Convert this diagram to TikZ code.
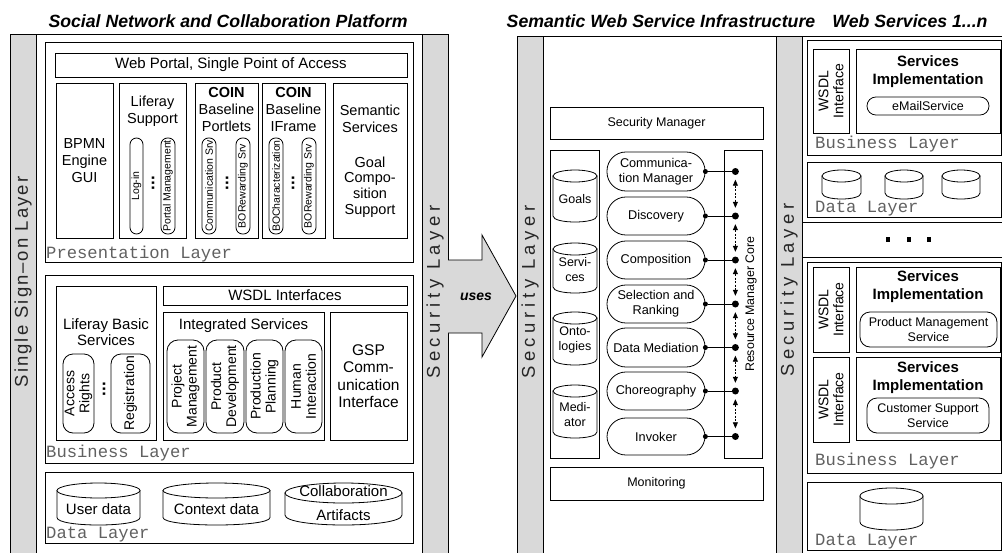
\documentclass[tikz,border=0pt]{standalone}
\usepackage{fontspec}
\setmainfont{Liberation Sans}
\setmonofont{Liberation Mono}
\newfontfamily\spacedA[LetterSpace=25]{Liberation Sans}
\newfontfamily\spacedB[LetterSpace=11]{Liberation Sans}
\usetikzlibrary{arrows.meta}
\newcommand\fz[2]{\fontsize{#1}{#2}\selectfont}
\newcommand\mybox[7][]{\node[bx, minimum width={(#5-#3)*1pt}, minimum height={(#6-#4)*1pt}, #1] (#2) at ({(#3+#5)/2},{(#4+#6)/2}) {#7};}
\newcommand\myrbox[7][]{\node[bx, rotate=90, minimum width={(#6-#4)*1pt}, minimum height={(#5-#3)*1pt}, #1] (#2) at ({(#3+#5)/2},{(#4+#6)/2}) {#7};}
\newcommand\mycyl[6]{%
  \filldraw[cylline] (#2,{#3+#6}) -- (#2,{#5-#6}) .. controls (#2,{#5+#6/3}) and (#4,{#5+#6/3}) .. (#4,{#5-#6}) -- (#4,{#3+#6}) -- cycle;
  \filldraw[cylline] ({(#2+#4)/2},{#3+#6}) ellipse ({(#4-#2)/2} and #6);
  \coordinate (#1) at ({(#2+#4)/2},{(#3+#5)/2});
}
\tikzset{
 bx/.style={draw=black, line width=0.8pt, fill=white, inner sep=1pt, align=center},
 cylline/.style={draw=black, line width=0.8pt, fill=white},
 bar/.style={draw=black, line width=0.8pt, fill=gray!30},
 layerlbl/.style={font=\ttfamily\fz{17.2}{20}, text=black!62, anchor=base west, inner sep=0pt},
 ttl/.style={font=\bfseries\itshape\fz{17.7}{20}, anchor=base, inner sep=0pt},
 txt/.style={align=center, inner sep=0pt},
 spill/.style={rounded corners=6.5pt, font=\fz{10.5}{12}, inner sep=0pt},
 mpill/.style={rounded corners=11pt, font=\fz{14}{15}, inner sep=0pt},
 bpill/.style={rounded corners=18.9pt, font=\fz{12.7}{15}, inner sep=0pt},
 rpill/.style={rounded corners=10pt, font=\fz{12.5}{15}, inner sep=0pt},
 vdots/.style={rotate=90, font=\bfseries\fz{17}{17}, inner sep=0pt},
 bdot/.style={circle, fill=black, inner sep=0pt, minimum size=7pt},
 pdot/.style={circle, fill=black, inner sep=0pt, minimum size=5pt},
 busarr/.style={line width=0.8pt, dash pattern=on 2pt off 1.5pt, {Triangle[length=6pt,width=5pt]}-{Triangle[length=6pt,width=5pt]}, shorten <=4.5pt, shorten >=4.5pt},
 bartxt/.style={rotate=90, text=black!85, inner sep=0pt},
 sq/.style={fill=black, inner sep=0pt, minimum size=4.5pt},
 sitxt/.style={font=\bfseries\fz{15}{18}, align=center, inner sep=0pt},
 wsdl/.style={font=\fz{14}{15}},
}
\begin{document}
\begin{tikzpicture}[x=1pt, y=-1pt, font=\fz{14.5}{17}]
\useasboundingbox (0,0) rectangle (1002,552);
\fill[white] (0,0) rectangle (1002,552);
\clip (0,0) rectangle (1002,552);

% titles
\node[ttl] (t1) at (228,27) {Social Network and Collaboration Platform};
\node[ttl] (t2) at (661,27) {Semantic Web Service Infrastructure};
\node[ttl] (t3) at (910,27) {Web Services 1...n};

% ---------- left panel frame
\draw[bar] (10,34) rectangle (36,560);
\draw[bar] (422,34) rectangle (448,560);
\draw[line width=0.8pt] (36,34) -- (422,34);
\node[bartxt, font=\spacedB\fz{18.5}{20}] (sso) at (23,282) {Single Sign–on Layer};
\node[bartxt, font=\spacedA\fz{18.5}{20}] (sec1) at (435,292) {Security Layer};

% presentation layer
\mybox{pres}{45}{42}{413}{262}{}
\mybox[font=\fz{15}{17}]{portal}{55}{53}{407}{77}{Web Portal, Single Point of Access}
\mybox{bpmn}{56}{83}{113}{238}{BPMN\\Engine\\GUI}
\mybox{lsup}{119}{83}{186}{238}{}
\node[txt] (lsupt) at (152.5,111) {Liferay\\Support};
\mybox{coinp}{195}{83}{258}{238}{}
\node[txt] (coinpt) at (226.5,110) {\textbf{COIN}\\Baseline\\Portlets};
\mybox{coini}{262}{83}{325}{238}{}
\node[txt] (coinit) at (293.5,110) {\textbf{COIN}\\Baseline\\IFrame};
\mybox{sem}{333}{83}{407}{238}{}
\node[txt] (semt1) at (370,118.5) {Semantic\\Services};
\node[txt, font=\fz{14.5}{15.7}] (semt2) at (370,187) {Goal\\Compo-\\sition\\Support};
\myrbox[spill]{login}{130}{138}{143}{234}{Log-in}
\myrbox[spill]{portm}{161}{138}{175}{234}{Portal Management}
\myrbox[spill]{comsrv}{202}{138}{216}{234}{Communication Srv}
\myrbox[spill]{borewa}{236}{138}{250}{234}{BORewarding Srv}
\myrbox[spill]{bochar}{269}{138}{283}{234}{BOCharacterization}
\myrbox[spill]{borewb}{302}{138}{316}{234}{BORewarding Srv}
\node[vdots] (dta) at (153,183) {...};
\node[vdots] (dtb) at (227,183) {...};
\node[vdots] (dtc) at (293,183) {...};
\node[layerlbl] (plbl) at (46,258) {Presentation Layer};

% business layer
\mybox{bus}{45}{275}{413}{463}{}
\mybox{lbs}{56}{286}{156}{440}{}
\node[txt, font=\fz{15}{16.5}] (lbst) at (106,332) {Liferay Basic\\Services};
\myrbox[mpill, rounded corners=10pt]{acc}{63}{354}{94}{433}{Access\\Rights}
\myrbox[mpill, rounded corners=10pt]{reg}{111}{354}{150}{433}{Registration}
\node[vdots] (dtd) at (104,389) {...};
\mybox[font=\fz{15}{17}]{wsdli}{163}{286}{407}{305}{WSDL Interfaces}
\mybox{integ}{163}{312}{324}{440}{}
\node[txt, font=\fz{15}{17}] (integt) at (243.5,326) {Integrated Services};
\myrbox[mpill]{pm}{167}{340}{204}{433}{Project\\Management}
\myrbox[mpill]{pd}{206}{340}{244}{433}{Product\\Development}
\myrbox[mpill]{pp}{246}{340}{283}{433}{Production\\Planning}
\myrbox[mpill]{hi}{285}{340}{322}{433}{Human\\Interaction}
\mybox[font=\fz{15.5}{17.5}]{gsp}{330}{312}{407}{440}{GSP\\Comm-\\unication\\Interface}
\node[layerlbl] (blbl) at (46,457) {Business Layer};

% data layer
\mybox{data}{45}{472}{413}{543}{}
\mycyl{udata}{57}{483}{140}{525}{7.5}
\node[txt, font=\fz{15}{17}] (udatat) at (98.5,509) {User data};
\mycyl{cdata}{163}{483}{270}{525}{7.5}
\node[txt, font=\fz{15}{17}] (cdatat) at (216.5,509) {Context data};
\mycyl{cart}{285}{483}{402}{525}{10}
\node[txt, font=\fz{15}{17}] (carta) at (343.5,491) {Collaboration};
\node[txt, font=\fz{15}{17}] (cartb) at (343.5,515) {Artifacts};
\node[layerlbl] (dlbl) at (46,538) {Data Layer};

% uses arrow
\filldraw[bar] (448,260) -- (482,260) -- (482,235) -- (516,296) -- (482,357) -- (482,333) -- (448,333);
\node[font=\bfseries\itshape\fz{14}{16}] (uses) at (476,297) {uses};

% ---------- middle panel
\draw[bar] (517,36) rectangle (543,560);
\draw[bar] (776,36) rectangle (802,560);
\draw[line width=0.8pt] (543,36) -- (776,36);
\node[bartxt, font=\spacedA\fz{18.5}{20}] (sec2) at (530,292) {Security Layer};
\node[bartxt, font=\spacedA\fz{18.5}{20}] (sec3) at (789,290) {Security Layer};

\mybox[font=\fz{12.5}{14}]{secm}{550}{107}{763}{139}{Security Manager}
\mybox{store}{550}{150}{599}{458}{}
\mycyl{goals}{553}{170}{597}{222}{6}
\node[txt, font=\fz{12.5}{15}] (goalst) at (575,199) {Goals};
\mycyl{servs}{553}{243}{597}{293}{6}
\node[txt, font=\fz{12.5}{15}] (servst) at (575,270) {Servi-\\ces};
\mycyl{onto}{553}{312}{597}{365}{6}
\node[txt, font=\fz{12.5}{15}] (ontot) at (575,340) {Onto-\\logies};
\mycyl{medi}{553}{385}{597}{438}{6}
\node[txt, font=\fz{12.5}{15}] (medit) at (575,414.5) {Medi-\\ator};

\mybox[bpill]{cm}{607}{152}{705}{191}{Communica-\\tion Manager}
\mybox[bpill]{disc}{607}{197}{705}{235}{Discovery}
\mybox[bpill]{comp}{607}{241}{705}{279}{Composition}
\mybox[bpill]{sel}{607}{285}{705}{323}{Selection and\\Ranking}
\mybox[bpill]{dm}{607}{328}{705}{367}{Data Mediation}
\mybox[bpill]{chor}{607}{372}{705}{410}{Choreography}
\mybox[bpill]{inv}{607}{418}{705}{455}{Invoker}

\mybox{rmc}{724}{150}{762}{458}{}
\node[rotate=90, font=\fz{12.4}{14}, inner sep=0pt] (rmct) at (751,304) {Resource Manager Core};

\foreach \i/\p in {1/cm,2/disc,3/comp,4/sel,5/dm,6/chor,7/inv}{
  \node[pdot] (p\i) at (\p.east) {};
  \path (\p.east) -- ++(30,0) node[bdot] (b\i) {};
  \draw[line width=0.8pt] (p\i) -- (b\i);
}
\foreach \i/\j in {1/2,2/3,3/4,4/5,5/6,6/7}{
  \draw[busarr] (b\i) -- (b\j);
}
\mybox[font=\fz{12.5}{14}]{mon}{550}{467}{763}{500}{Monitoring}

% ---------- right panel
\draw[line width=0.8pt] (802,36) -- (1002,36);
\draw[line width=0.8pt] (802,222) -- (1002,222);
\draw[line width=0.8pt] (802,257) -- (1002,257);

\mybox{rbusa}{807}{40}{1001}{155}{}
\myrbox[wsdl]{wsdla}{813}{49}{849}{133}{WSDL\\Interface}
\mybox{sia}{856}{49}{1000}{133}{}
\node[sitxt] (siat) at (928,72) {Services\\Implementation};
\mybox[rpill, rounded corners=8.9pt]{email}{867}{97}{989}{115}{eMailService}
\node[layerlbl] (rbla) at (815,148) {Business Layer};
\mybox{rdataa}{807}{162}{1001}{217}{}
\mycyl{rca}{822}{170}{861}{199}{6}
\mycyl{rcb}{885}{170}{923}{199}{6}
\mycyl{rcc}{942}{170}{980}{199}{6}
\node[layerlbl] (rdla) at (815,212) {Data Layer};
\node[sq] (sqa) at (888,239.5) {};
\node[sq] (sqb) at (909,239.5) {};
\node[sq] (sqc) at (929,239.5) {};

\mybox{rbusb}{807}{262}{1001}{473}{}
\myrbox[wsdl]{wsdlb}{813}{267}{849}{352}{WSDL\\Interface}
\mybox{sib}{856}{267}{1000}{352}{}
\node[sitxt] (sibt) at (928,287) {Services\\Implementation};
\mybox[rpill]{pms}{860}{312}{997}{347}{Product Management\\Service}
\myrbox[wsdl]{wsdlc}{813}{357}{849}{442}{WSDL\\Interface}
\mybox{sic}{856}{357}{1000}{440}{}
\node[sitxt] (sict) at (928,377.5) {Services\\Implementation};
\mybox[rpill]{css}{867}{398}{989}{433}{Customer Support\\Service}
\node[layerlbl] (rblb) at (815,465) {Business Layer};
\mybox{rdatab}{807}{482}{1001}{550}{}
\mycyl{rcd}{860}{488}{923}{530}{8}
\node[layerlbl] (rdlb) at (815,545) {Data Layer};
\end{tikzpicture}
\end{document}
